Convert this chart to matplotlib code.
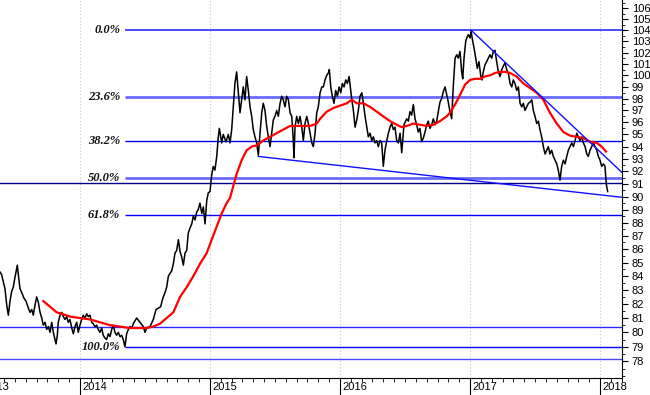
import numpy as np
import matplotlib
matplotlib.use('Agg')
import matplotlib.pyplot as plt
from matplotlib.ticker import FixedLocator, NullFormatter, FixedFormatter
import matplotlib.transforms as mtransforms

# ---------------- data ----------------
price_t = [
    2013.385, 2013.398, 2013.410, 2013.423, 2013.437, 2013.449, 2013.462, 2013.475, 2013.487, 2013.500,
    2013.518, 2013.526, 2013.539, 2013.552, 2013.570, 2013.585, 2013.603, 2013.616, 2013.629, 2013.641,
    2013.654, 2013.667, 2013.680, 2013.693, 2013.706, 2013.718, 2013.731, 2013.744, 2013.757, 2013.770,
    2013.783, 2013.795, 2013.808, 2013.816, 2013.826, 2013.833, 2013.847, 2013.860, 2013.872, 2013.885,
    2013.898, 2013.910, 2013.923, 2013.937, 2013.949, 2013.962, 2013.975, 2013.987, 2014.000, 2014.013,
    2014.025, 2014.038, 2014.052, 2014.064, 2014.077, 2014.090, 2014.102, 2014.115, 2014.128, 2014.141,
    2014.154, 2014.167, 2014.179, 2014.192, 2014.205, 2014.218, 2014.231, 2014.244, 2014.256, 2014.269,
    2014.282, 2014.295, 2014.308, 2014.321, 2014.333, 2014.346, 2014.359, 2014.372, 2014.385, 2014.398,
    2014.410, 2014.423, 2014.436, 2014.462, 2014.487, 2014.500, 2014.513, 2014.539, 2014.564, 2014.585,
    2014.603, 2014.621, 2014.637, 2014.654, 2014.667, 2014.680, 2014.693, 2014.706, 2014.718, 2014.731,
    2014.744, 2014.757, 2014.770, 2014.783, 2014.795, 2014.808, 2014.821, 2014.833, 2014.847, 2014.860,
    2014.872, 2014.885, 2014.898, 2014.910, 2014.923, 2014.937, 2014.949, 2014.962, 2014.975, 2014.987,
    2015.000, 2015.013, 2015.025, 2015.038, 2015.052, 2015.064, 2015.072, 2015.090, 2015.102, 2015.123,
    2015.141, 2015.154, 2015.167, 2015.179, 2015.192, 2015.205, 2015.218, 2015.231, 2015.244, 2015.256,
    2015.269, 2015.282, 2015.295, 2015.308, 2015.321, 2015.333, 2015.346, 2015.359, 2015.372, 2015.385,
    2015.398, 2015.410, 2015.423, 2015.437, 2015.449, 2015.462, 2015.475, 2015.487, 2015.500, 2015.513,
    2015.526, 2015.539, 2015.552, 2015.564, 2015.577, 2015.590, 2015.603, 2015.616, 2015.629, 2015.641,
    2015.646, 2015.654, 2015.667, 2015.680, 2015.693, 2015.706, 2015.718, 2015.731, 2015.744, 2015.757,
    2015.770, 2015.783, 2015.795, 2015.808, 2015.821, 2015.833, 2015.847, 2015.860, 2015.872, 2015.885,
    2015.898, 2015.910, 2015.918, 2015.929, 2015.941, 2015.954, 2015.967, 2015.980, 2015.993, 2016.006,
    2016.018, 2016.031, 2016.044, 2016.057, 2016.070, 2016.083, 2016.091, 2016.103, 2016.116, 2016.129,
    2016.141, 2016.154, 2016.168, 2016.180, 2016.193, 2016.206, 2016.218, 2016.231, 2016.244, 2016.257,
    2016.269, 2016.282, 2016.295, 2016.308, 2016.321, 2016.333, 2016.346, 2016.360, 2016.372, 2016.385,
    2016.398, 2016.410, 2016.423, 2016.436, 2016.449, 2016.462, 2016.475, 2016.492, 2016.513, 2016.526,
    2016.538, 2016.551, 2016.564, 2016.577, 2016.590, 2016.602, 2016.615, 2016.628, 2016.641, 2016.654,
    2016.667, 2016.679, 2016.692, 2016.705, 2016.718, 2016.731, 2016.744, 2016.756, 2016.769, 2016.782,
    2016.795, 2016.808, 2016.821, 2016.833, 2016.846, 2016.859, 2016.872, 2016.885, 2016.898, 2016.910,
    2016.923, 2016.936, 2016.944, 2016.954, 2016.967, 2016.975, 2016.987, 2017.000, 2017.008, 2017.021,
    2017.031, 2017.044, 2017.056, 2017.069, 2017.082, 2017.092, 2017.102, 2017.115, 2017.128, 2017.141,
    2017.154, 2017.167, 2017.179, 2017.192, 2017.205, 2017.218, 2017.231, 2017.244, 2017.256, 2017.269,
    2017.282, 2017.295, 2017.308, 2017.321, 2017.333, 2017.346, 2017.359, 2017.372, 2017.385, 2017.398,
    2017.410, 2017.423, 2017.436, 2017.449, 2017.462, 2017.475, 2017.487, 2017.500, 2017.513, 2017.526,
    2017.538, 2017.551, 2017.564, 2017.577, 2017.590, 2017.602, 2017.615, 2017.628, 2017.641, 2017.654,
    2017.667, 2017.679, 2017.692, 2017.705, 2017.718, 2017.731, 2017.744, 2017.756, 2017.769, 2017.782,
    2017.795, 2017.808, 2017.821, 2017.833, 2017.846, 2017.859, 2017.872, 2017.885, 2017.898, 2017.910,
    2017.923, 2017.936, 2017.949, 2017.962, 2017.975, 2017.987, 2018.000, 2018.013, 2018.026, 2018.038,
    2018.046, 2018.051, 2018.059,
]
price_v = [
    84.3, 84.1, 83.6, 83.1, 81.9, 81.2, 82.2, 82.9, 83.2, 83.9,
    84.8, 84.1, 83.1, 82.8, 82.4, 82.2, 81.7, 81.4, 81.6, 81.2,
    81.9, 82.5, 82.1, 81.4, 81.0, 80.5, 80.7, 80.2, 80.4, 80.0,
    80.7, 80.0, 79.5, 79.2, 79.8, 80.7, 81.2, 81.4, 81.1, 80.9,
    81.1, 80.7, 80.9, 80.3, 79.9, 80.4, 80.7, 80.0, 80.5, 80.9,
    81.2, 81.0, 81.3, 81.1, 81.2, 80.7, 80.6, 80.4, 80.5, 80.2,
    80.0, 80.3, 79.8, 79.6, 79.5, 79.9, 79.7, 80.2, 80.5, 80.0,
    79.8, 80.0, 79.7, 79.8, 79.5, 79.0, 79.9, 80.2, 80.4, 80.3,
    80.6, 80.8, 81.0, 80.7, 80.4, 80.0, 80.3, 80.4, 80.9, 81.6,
    81.7, 81.8, 82.4, 82.8, 83.2, 84.0, 84.2, 84.4, 84.9, 85.7,
    85.9, 86.7, 85.8, 85.4, 84.8, 85.7, 85.9, 87.2, 87.6, 87.9,
    88.5, 88.2, 88.8, 89.0, 89.5, 88.7, 89.2, 87.9, 89.7, 90.3,
    90.4, 91.7, 92.4, 92.1, 93.2, 94.8, 95.5, 94.3, 95.0, 94.4,
    95.0, 94.3, 95.4, 97.3, 99.3, 100.3, 98.5, 96.8, 97.9, 99.0,
    97.9, 99.9, 98.7, 97.3, 96.5, 95.4, 94.8, 94.3, 93.3, 95.1,
    96.8, 97.6, 97.0, 95.6, 94.8, 94.0, 95.1, 96.2, 96.5, 97.0,
    96.5, 97.6, 98.2, 97.9, 97.3, 98.2, 97.9, 96.8, 96.5, 94.5,
    93.1, 95.6, 96.5, 95.9, 96.5, 95.6, 94.5, 95.9, 96.5, 95.9,
    95.1, 94.3, 94.0, 95.1, 96.8, 97.3, 98.5, 99.0, 99.0, 99.6,
    100.0, 100.2, 100.5, 99.0, 98.2, 97.6, 98.7, 98.2, 99.0, 98.5,
    99.3, 99.0, 99.6, 99.3, 99.9, 98.7, 97.9, 97.0, 95.6, 96.2,
    97.0, 98.2, 98.5, 97.6, 96.5, 95.6, 94.8, 95.1, 94.5, 94.8,
    94.3, 94.5, 94.0, 94.5, 94.3, 92.4, 93.7, 94.5, 95.1, 95.6,
    95.9, 95.4, 95.6, 94.5, 94.3, 95.1, 93.5, 95.8, 96.3, 96.1,
    96.9, 96.6, 97.5, 96.3, 95.8, 95.2, 95.5, 94.4, 94.7, 95.2,
    95.8, 96.1, 95.5, 95.8, 96.3, 95.8, 96.1, 96.9, 97.7, 98.0,
    98.6, 99.0, 98.3, 97.7, 96.9, 96.3, 99.2, 101.5, 101.8, 101.5,
    102.1, 100.3, 99.7, 101.5, 103.0, 103.3, 103.6, 103.3, 103.9, 103.0,
    102.4, 101.5, 100.6, 101.2, 100.0, 99.6, 100.3, 100.9, 101.2, 101.5,
    101.8, 101.5, 102.1, 102.2, 101.2, 100.3, 99.9, 100.5, 100.8, 101.1,
    100.5, 100.2, 99.3, 99.0, 99.6, 99.3, 98.7, 99.0, 97.6, 97.3,
    97.6, 97.0, 97.3, 97.6, 97.7, 97.9, 97.0, 96.5, 95.9, 96.1,
    95.4, 94.8, 94.0, 93.4, 93.7, 94.0, 93.4, 93.7, 93.2, 92.9,
    92.6, 92.1, 91.3, 92.4, 92.9, 92.6, 93.2, 93.7, 94.0, 94.3,
    94.0, 94.5, 95.1, 94.8, 94.5, 94.8, 94.3, 94.0, 93.4, 93.2,
    93.7, 94.0, 94.3, 94.0, 93.7, 93.2, 92.9, 92.4, 92.6, 92.4,
    91.3, 90.8, 90.4,
]

ma_t = [
    2013.718, 2013.770, 2013.821, 2013.860, 2013.923, 2014.000, 2014.077, 2014.154, 2014.231, 2014.308,
    2014.385, 2014.513, 2014.564, 2014.615, 2014.667, 2014.718, 2014.770, 2014.821, 2014.872, 2014.923,
    2014.975, 2015.013, 2015.052, 2015.090, 2015.128, 2015.154, 2015.205, 2015.244, 2015.282, 2015.321,
    2015.359, 2015.410, 2015.462, 2015.513, 2015.564, 2015.616, 2015.667, 2015.718, 2015.770, 2015.821,
    2015.847, 2015.898, 2015.949, 2016.000, 2016.052, 2016.091, 2016.129, 2016.180, 2016.231, 2016.282,
    2016.333, 2016.385, 2016.436, 2016.475, 2016.513, 2016.564, 2016.615, 2016.667, 2016.718, 2016.769,
    2016.821, 2016.846, 2016.885, 2016.923, 2016.962, 2017.000, 2017.038, 2017.077, 2017.115, 2017.154,
    2017.192, 2017.231, 2017.269, 2017.308, 2017.359, 2017.410, 2017.462, 2017.513, 2017.564, 2017.615,
    2017.667, 2017.718, 2017.769, 2017.821, 2017.872, 2017.923, 2017.975, 2018.013, 2018.046,
]
ma_v = [
    82.2, 81.8, 81.4, 81.3, 81.1, 81.0, 80.9, 80.7, 80.5, 80.4,
    80.3, 80.3, 80.4, 80.6, 81.0, 81.4, 82.5, 83.2, 84.0, 84.9,
    85.7, 86.7, 87.7, 88.7, 89.5, 89.9, 91.8, 92.9, 93.7, 94.0,
    94.1, 94.5, 94.8, 95.1, 95.4, 95.7, 95.7, 95.7, 95.7, 95.9,
    96.3, 96.9, 97.2, 97.4, 97.6, 97.9, 97.6, 97.6, 97.3, 96.9,
    96.5, 96.1, 95.8, 95.6, 95.7, 95.9, 95.8, 95.7, 95.8, 96.1,
    96.5, 96.8, 97.5, 98.3, 99.2, 99.6, 99.7, 99.7, 99.9, 100.0,
    100.2, 100.3, 100.3, 100.2, 99.9, 99.3, 98.9, 98.5, 97.9, 96.8,
    95.9, 95.2, 94.9, 94.8, 94.7, 94.4, 94.3, 94.0, 93.6,
]

fib_high = 104.0
fib_low = 79.0
fib_ratios = [0.0, 0.236, 0.382, 0.5, 0.618, 1.0]
fib_labels = ['0.0%', '23.6%', '38.2%', '50.0%', '61.8%', '100.0%']
fib_start = 2014.346

extra_levels = [91.1, 80.4, 78.2]

res_t = [2017.008, 2018.17]
res_v = [104.0, 91.9]
sup_t = [2015.372, 2018.17]
sup_v = [93.2, 89.95]

years = [2014, 2015, 2016, 2017, 2018]
year_labels = ['2014', '2015', '2016', '2017', '2018']
y_ticks = list(range(78, 107))

# ---------------- figure ----------------
W, H = 650, 395
fig = plt.figure(figsize=(W / 100, H / 100), dpi=100)
fig.patch.set_facecolor('white')
ax = fig.add_axes([0, 1 - 378 / H, 622 / W, 378 / H])
ax.set_facecolor('white')

x0, x1 = 2013.385, 2018.169
ax.set_xlim(x0, x1)
ax.set_yscale('log')
ax.set_ylim(76.89, 106.76)

# vertical year grid
for yr in years:
    ax.axvline(yr, color='#c8c8c8', lw=0.8, ls=(0, (1, 2)), zorder=1)

# full-width horizontal lines
ax.axhline(extra_levels[0], color='#00008b', lw=1.0, zorder=2)
ax.axhline(extra_levels[1], color='#2a2aff', lw=1.0, zorder=2)
ax.axhline(extra_levels[2], color='#4a4aff', lw=1.0, zorder=2)

# fibonacci levels
fib_vals = [fib_high - r * (fib_high - fib_low) for r in fib_ratios]
fib_styles = [('#1a1aff', 1.1), ('#6a6aff', 2.0), ('#0000ff', 1.0),
              ('#6a6aff', 2.0), ('#0000ff', 1.0), ('#0000ff', 1.0)]
for v, lab, (c, lw) in zip(fib_vals, fib_labels, fib_styles):
    ax.plot([fib_start, x1], [v, v], color=c, lw=lw, zorder=2, solid_capstyle='butt')
    ax.text(2014.31, v, lab, ha='right', va='center', fontsize=9,
            family='Liberation Serif', fontweight='bold', fontstyle='italic',
            color='#111111', zorder=5)

# price
ax.plot(price_t, price_v, color='black', lw=1.1, zorder=3)
# moving average
ax.plot(ma_t, ma_v, color='#ff0000', lw=1.6, zorder=4)
# trend lines
ax.plot(res_t, res_v, color='#1010ff', lw=1.0, zorder=4)
ax.plot(sup_t, sup_v, color='#1010ff', lw=1.0, zorder=4)

# spines
for s in ['left', 'top']:
    ax.spines[s].set_visible(False)
ax.spines['right'].set_color('black')
ax.spines['bottom'].set_color('black')
ax.spines['right'].set_linewidth(0.8)
ax.spines['bottom'].set_linewidth(0.8)

# y axis on the right
ax.yaxis.tick_right()
ax.yaxis.set_major_locator(FixedLocator(y_ticks))
ax.yaxis.set_major_formatter(FixedFormatter([str(v) for v in y_ticks]))
ax.yaxis.set_minor_locator(FixedLocator([v + 0.5 for v in range(76, 107)] + [77]))
ax.yaxis.set_minor_formatter(NullFormatter())
ax.tick_params(axis='y', which='major', direction='out', length=4, width=0.8,
               pad=3, labelsize=8, right=True, left=False)
ax.tick_params(axis='y', which='minor', direction='out', length=2, width=0.6,
               right=True, left=False)
for lab in ax.get_yticklabels():
    lab.set_family('Liberation Sans')

# x axis
ax.xaxis.set_major_locator(FixedLocator(years))
ax.xaxis.set_major_formatter(NullFormatter())
ax.xaxis.set_minor_locator(FixedLocator([2013 + m / 12 for m in range(0, 12 * 6)]))
ax.tick_params(axis='x', which='major', direction='out', length=12, width=0.8)
ax.tick_params(axis='x', which='minor', direction='out', length=3, width=0.6)

trans = mtransforms.blended_transform_factory(ax.transData, ax.transAxes)
off = mtransforms.ScaledTranslation(2 / 100, 0, fig.dpi_scale_trans)
for yr, lab in zip(years, year_labels):
    ax.text(yr, -0.011, lab, transform=trans + off, ha='left', va='top',
            fontsize=8, family='Liberation Sans', clip_on=False)
fig.text(9.5 / W, 1 - 382 / H, '2013', ha='right', va='top', fontsize=8,
         family='Liberation Sans')

fig.savefig('out.png', dpi=100)
